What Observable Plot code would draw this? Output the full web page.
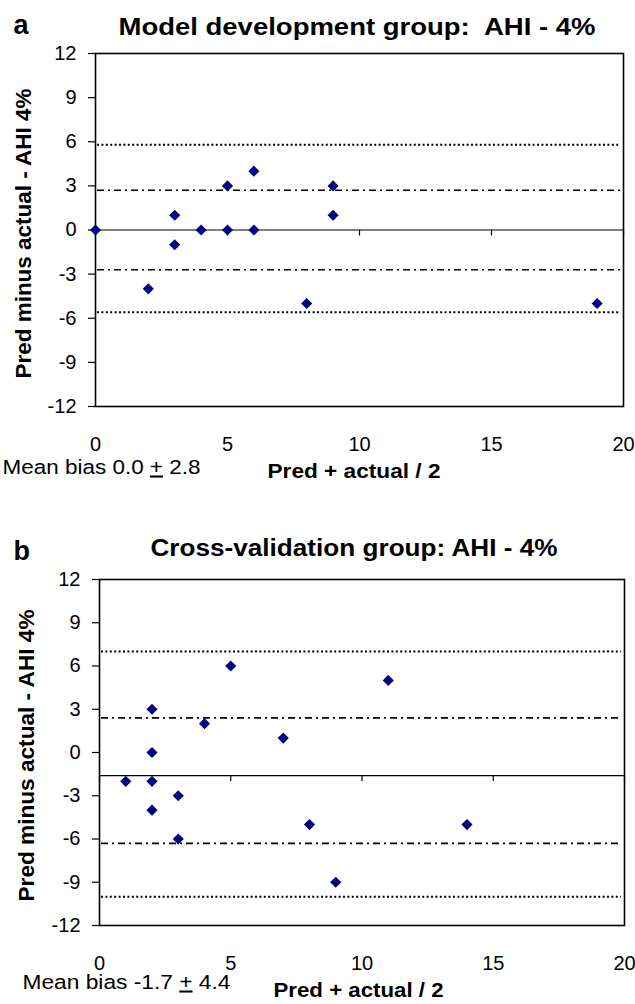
<!DOCTYPE html>
<html><head><meta charset="utf-8">
<script src="https://cdn.jsdelivr.net/npm/d3@7"></script>
<script src="https://cdn.jsdelivr.net/npm/@observablehq/plot@0.6"></script>
<style>
body{margin:0;background:#fff;}
#chart{width:635px;}
#chart svg{display:block;}
</style></head><body><div id="chart"></div>
<script>
// ---- data ----
const xTicks = [0, 5, 10, 15, 20];
const yTicks = [-12, -9, -6, -3, 0, 3, 6, 9, 12];

// Panel a: model development group
const aTitle = "Model development group:  AHI - 4%";
const aAvg  = [0, 2, 3, 3, 4, 5, 5, 6, 6, 8, 9, 9, 19];
const aDiff = [0, -4, 1, -1, 0, 3, 0, 4, 0, -5, 3, 1, -5];
const aLimits = [5.8, -5.6];      // dotted lines
const aSDLines = [2.7, -2.7];     // dash-dot lines
const aCross = 0;                 // solid line / axis crossing
const aBias = 0.0, aSD = 2.8;

// Panel b: cross-validation group
const bTitle = "Cross-validation group: AHI - 4%";
const bAvg  = [1, 2, 2, 2, 2, 3, 3, 4, 5, 7, 8, 9, 11, 14];
const bDiff = [-2, 3, 0, -2, -4, -3, -6, 2, 6, 1, -5, -9, 5, -5];
const bLimits = [7.0, -10.0];
const bSDLines = [2.4, -6.3];
const bCross = -1.6;
const bBias = -1.7, bSD = 4.4;

const xLabel = "Pred + actual / 2";
const yLabel = "Pred minus actual - AHI 4%";

const FONT = "'Liberation Sans', Arial, Helvetica, sans-serif";

function panel(o) {
  const pts = o.avg.map((x, i) => ({x, y: o.diff[i]}));
  const biasText = `Mean bias ${o.bias.toFixed(1)} + ${o.sd.toFixed(1)}`;
  const L = o.margins.marginLeft, T = o.margins.marginTop;
  const txt = (s, X, Y, extra) => Plot.text([s], {
    text: d => d, frameAnchor: "top-left", dx: X - L, dy: Y - T,
    textAnchor: "start", lineAnchor: "bottom", ...extra
  });
  const svg = Plot.plot({
    width: 635, height: o.height, ...o.margins,
    style: {fontFamily: FONT, fontSize: "20px", color: "black", background: "white", overflow: "visible"},
    x: {domain: [0, 20]},
    y: {domain: [-12, 12]},
    marks: [
      Plot.ruleY(o.limits, {stroke: "black", strokeWidth: 2, strokeDasharray: "2,2.4", insetLeft: 2, insetRight: 3}),
      Plot.ruleY(o.sdLines, {stroke: "black", strokeWidth: 1.6, strokeDasharray: "7,4,2,4", insetLeft: 2, insetRight: 3}),
      Plot.ruleY([o.cross], {stroke: "black", strokeWidth: 1.2}),
      Plot.ruleX(xTicks, {x: d => d, y1: () => o.cross, y2: () => o.cross, insetBottom: -6, stroke: "black", strokeWidth: 1.2}),
      Plot.axisY({ticks: yTicks, tickSize: 7, tickPadding: 12, fontSize: 20, tickFormat: d => String(d), label: null, stroke: "black", strokeWidth: 1.2}),
      Plot.axisX({ticks: xTicks, tickSize: 0, tickPadding: 30, fontSize: 20, tickFormat: d => String(d), label: null}),
      Plot.frame({stroke: "black", strokeWidth: 1.6}),
      Plot.dot(pts, {x: "x", y: "y", symbol: "diamond2", r: 5, fill: "#000080", stroke: "none"}),
      txt(o.letter, o.letterPos[0], o.letterPos[1], {fontSize: 27, fontWeight: "bold"}),
      txt(o.title, o.titlePos[0], o.titlePos[1], {fontSize: 23, fontWeight: "bold"}),
      txt(xLabel, o.xlabPos[0], o.xlabPos[1], {fontSize: 19.5, fontWeight: "bold"}),
      txt(biasText, o.biasPos[0], o.biasPos[1], {fontSize: 20.5}),
      txt(yLabel, o.ylabPos[0], o.ylabPos[1], {fontSize: 22, fontWeight: "bold", rotate: -90})
    ]
  });
  const sel = d3.select(svg);
  const fit = (s, len) => sel.selectAll("text").filter(function(){ return this.textContent === s; })
    .attr("textLength", len).attr("lengthAdjust", "spacingAndGlyphs");
  fit(o.title, o.lens.title);
  fit(xLabel, o.lens.xlab);
  fit(yLabel, o.lens.ylab);
  fit(biasText, o.lens.bias);
  const bt = sel.selectAll("text").filter(function(){ return this.textContent === biasText; });
  const parts = biasText.split("+");
  bt.text(null);
  bt.append("tspan").text(parts[0]);
  bt.append("tspan").attr("text-decoration", "underline").text("+");
  bt.append("tspan").text(parts[1]);
  return svg;
}

const chart = document.getElementById("chart");
chart.appendChild(panel({
  letter: "a", title: aTitle, avg: aAvg, diff: aDiff, limits: aLimits, sdLines: aSDLines,
  cross: aCross, bias: aBias, sd: aSD, height: 500,
  margins: {marginLeft: 95, marginRight: 12, marginTop: 53, marginBottom: 94},
  letterPos: [13, 33], titlePos: [118, 34], xlabPos: [267, 477], biasPos: [2, 473], ylabPos: [30, 378],
  lens: {title: 477, xlab: 173, ylab: 290, bias: 198}
}));
chart.appendChild(panel({
  letter: "b", title: bTitle, avg: bAvg, diff: bDiff, limits: bLimits, sdLines: bSDLines,
  cross: bCross, bias: bBias, sd: bSD, height: 504,
  margins: {marginLeft: 99, marginRight: 11, marginTop: 79, marginBottom: 79},
  letterPos: [13, 59], titlePos: [150, 55], xlabPos: [273, 496], biasPos: [22, 488], ylabPos: [33, 401],
  lens: {title: 407, xlab: 170, ylab: 292, bias: 208}
}));
</script>
</body></html>
